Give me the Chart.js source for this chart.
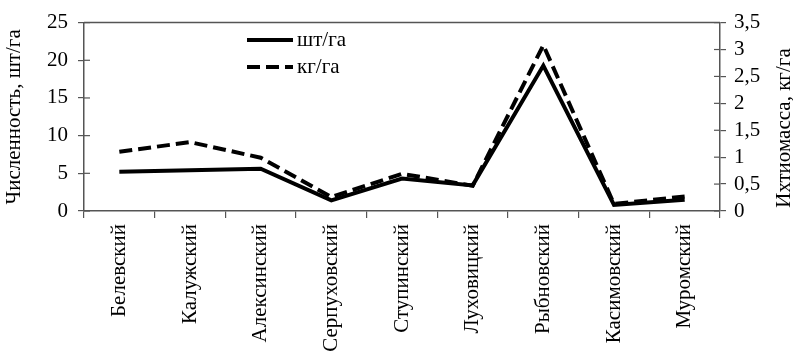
<!DOCTYPE html>
<html><head><meta charset="utf-8">
<script src="https://cdn.jsdelivr.net/npm/chart.js@4/dist/chart.umd.min.js"></script>
<style>html,body{margin:0;padding:0;background:#fff}#w{width:793px;height:351px}</style>
</head><body><div id="w"><canvas id="c"></canvas></div>
<script>
const categories = ['Белевский','Калужский','Алексинский','Серпуховский','Ступинский','Луховицкий','Рыбновский','Касимовский','Муромский'];
const countPerHa = [5.2, 5.4, 5.6, 1.4, 4.3, 3.4, 19.3, 0.8, 1.5];
const massPerHa = [1.10, 1.28, 0.99, 0.26, 0.69, 0.47, 3.08, 0.13, 0.27];
const leftTicks = [0,5,10,15,20,25];
const rightTicks = [0,0.5,1,1.5,2,2.5,3,3.5];
const seriesNames = ['шт/га','кг/га'];
const leftTitle = 'Численность, шт/га';
const rightTitle = 'Ихтиомасса, кг/га';

const F = '"Liberation Serif", "Times New Roman", Times, serif';
const axisColor = '#555';

const frame = {
  id:'frame',
  afterDraw(chart){
    const {ctx, chartArea:a, scales} = chart;
    ctx.save();
    ctx.strokeStyle = axisColor; ctx.lineWidth = 1.5;
    ctx.beginPath(); ctx.moveTo(a.left, a.top); ctx.lineTo(a.right, a.top); ctx.stroke();
    ctx.lineWidth = 1.2;
    scales.y.ticks.forEach(t=>{const y=scales.y.getPixelForValue(t.value); ctx.beginPath(); ctx.moveTo(a.left,y); ctx.lineTo(a.left+6,y); ctx.stroke();});
    scales.y1.ticks.forEach(t=>{const y=scales.y1.getPixelForValue(t.value); ctx.beginPath(); ctx.moveTo(a.right-6,y); ctx.lineTo(a.right,y); ctx.stroke();});
    ctx.restore();
    // right title, rotated bottom-to-top
    ctx.save();
    ctx.fillStyle = '#000'; ctx.font = '21px ' + F; ctx.textAlign='center'; ctx.textBaseline='middle';
    ctx.translate(784, 128); ctx.rotate(-Math.PI/2); ctx.fillText(rightTitle, 0, 0);
    ctx.restore();
    // legend
    ctx.save();
    const lx = 247, ly = [40, 67];
    chart.data.datasets.forEach((d,i)=>{
      ctx.strokeStyle = '#000'; ctx.lineWidth = 4;
      ctx.setLineDash(d.borderDash || []);
      ctx.beginPath(); ctx.moveTo(lx, ly[i]); ctx.lineTo(lx+46, ly[i]); ctx.stroke();
      ctx.setLineDash([]);
      ctx.fillStyle = '#000'; ctx.font = '21px ' + F; ctx.textBaseline='middle'; ctx.textAlign='left';
      ctx.fillText(d.label, lx+50, ly[i]);
    });
    ctx.restore();
  }
};

new Chart(document.getElementById('c'), {
  type:'line',
  data:{
    labels: categories,
    datasets:[
      {label: seriesNames[0], data: countPerHa, yAxisID:'y', borderColor:'#000', borderWidth:4, pointRadius:0, tension:0},
      {label: seriesNames[1], data: massPerHa, yAxisID:'y1', borderColor:'#000', borderWidth:4, borderDash:[13,6], pointRadius:0, tension:0}
    ]
  },
  plugins:[frame],
  options:{
    responsive:true, maintainAspectRatio:false, animation:false,
    layout:{padding:{top:19,left:0,right:0,bottom:0}},
    plugins:{legend:{display:false}, tooltip:{enabled:false}},
    scales:{
      x:{
        offset:true,
        grid:{display:true, drawOnChartArea:false, drawTicks:true, tickLength:7, color:axisColor, lineWidth:1.2, offset:true},
        border:{display:true, color:axisColor, width:1.5},
        ticks:{color:'#000', font:{family:F, size:21}, maxRotation:90, minRotation:90, padding:6, autoSkip:false},
        afterFit(s){ s.height = 140; }
      },
      y:{
        position:'left', min:0, max:25,
        afterBuildTicks(s){ s.ticks = leftTicks.map(v=>({value:v})); },
        grid:{drawOnChartArea:false, tickLength:6, color:axisColor, lineWidth:1.2},
        border:{display:true, color:axisColor, width:1.5},
        ticks:{color:'#000', font:{family:F, size:21}, padding:10, autoSkip:false},
        title:{display:true, text:leftTitle, color:'#000', font:{family:F, size:21}, padding:{top:2,bottom:6}},
        afterFit(s){ s.width = 84; }
      },
      y1:{
        position:'right', min:0, max:3.5,
        afterBuildTicks(s){ s.ticks = rightTicks.map(v=>({value:v})); },
        grid:{drawOnChartArea:false, tickLength:6, color:axisColor, lineWidth:1.2},
        border:{display:true, color:axisColor, width:1.5},
        ticks:{color:'#000', font:{family:F, size:21}, padding:8, autoSkip:false, callback:v=>String(v).replace('.',',')},
        afterFit(s){ s.width = 73; }
      }
    }
  }
});
</script></body></html>
